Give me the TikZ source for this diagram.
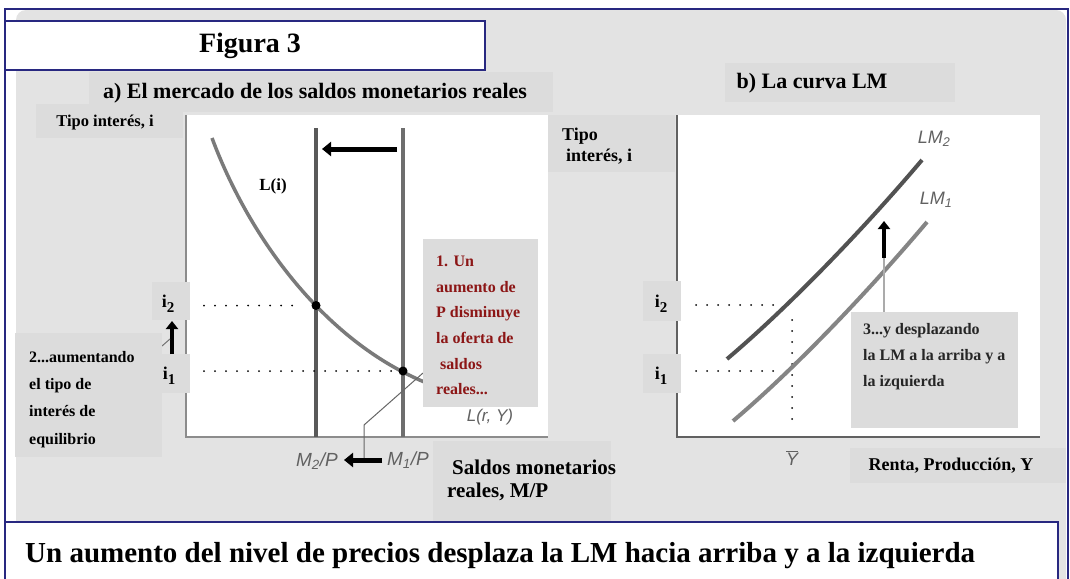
\documentclass[tikz,border=0pt]{standalone}
\usepackage{fontspec}
\setmainfont{Liberation Serif}
\newfontfamily\labsans{Liberation Sans}
\usetikzlibrary{arrows.meta}
\definecolor{navy}{RGB}{40,40,128}
\definecolor{bggray}{RGB}{227,227,227}
\definecolor{boxgray}{RGB}{220,220,220}
\definecolor{darkred}{RGB}{140,22,22}
\definecolor{curvegray}{RGB}{122,122,122}
\tikzset{
  lbl/.style={font=\bfseries\fontsize{18}{20}\selectfont, inner sep=0pt},
  boxtxt/.style={font=\bfseries\fontsize{16}{25.6}\selectfont, align=left, inner sep=0pt, anchor=north west},
  greybox/.style={fill=boxgray, draw=none},
  sanslab/.style={font=\labsans\itshape\fontsize{18}{20}\selectfont, text=black!62, inner sep=0pt},
  bigarrow/.style={line width=5pt, -{Triangle[length=9pt,width=14pt]}},
  dotline/.style={line width=2pt, line cap=round, dash pattern=on 0pt off 11pt},
  eqdot/.style={circle, fill=black, inner sep=0pt, minimum size=9pt},
}
\newcommand{\isub}[1]{i\raisebox{-4.5pt}{\fontsize{15}{15}\selectfont #1}}
\begin{document}
\begin{tikzpicture}[x=1pt,y=-1pt]
\useasboundingbox (0,0) rectangle (1070,578);
\fill[white] (0,0) rectangle (1070,578);
% background
\fill[bggray, rounded corners=10pt] (16,10) rectangle (1066,600);
\draw[navy, line width=1.5pt] (5,600) -- (5,9) -- (1068,9) -- (1068,600);

% title
\draw[navy, fill=white, line width=1.5pt] (5,21) rectangle (485,70);
\node[font=\bfseries\fontsize{28}{30}\selectfont, inner sep=0pt] (fig) at (250,46) {Figura 3};

% subtitles
\fill[boxgray] (89,72) rectangle (553,112);
\node[font=\bfseries\fontsize{22}{24}\selectfont, inner sep=0pt] (suba) at (315,93) {a) El mercado de los saldos monetarios reales};
\fill[boxgray] (725,63) rectangle (955,102);
\node[font=\bfseries\fontsize{22}{24}\selectfont, inner sep=0pt] (subb) at (812,83) {b) La curva LM};

% ---------- left panel ----------
\fill[boxgray] (36,104) rectangle (183,138);
\node[lbl, font=\bfseries\fontsize{16.5}{18}\selectfont] (tipoA) at (105,123) {Tipo interés, i};
\fill[white] (186,115) rectangle (548,437);
\draw[black!45, line width=2.5pt] (186,115) -- (186,437) -- (548,437);

\coordinate (m2top) at (316,128);
\coordinate (m2bot) at (316,437);
\coordinate (m1top) at (403,128);
\coordinate (m1bot) at (403,437);
\draw[black!65, line width=3.5pt] (m2top) -- (m2bot);
\draw[black!57, line width=3.5pt] (m1top) -- (m1bot);

\coordinate (arrS) at (397,149);
\coordinate (arrE) at (322,149);
\draw[bigarrow] (arrS) -- (arrE);

\draw[curvegray, line width=3.5pt] (212,138) .. controls (250,240) and (330,350) .. (440,388);
\node[font=\bfseries\fontsize{17}{19}\selectfont, inner sep=2pt, fill=white] (Li) at (273,186) {L(i)};

\node[eqdot] (e2) at (316,305.5) {};
\node[eqdot] (e1) at (403,371) {};
\coordinate (d2s) at (204,305.5);
\coordinate (d1s) at (204,371);
\draw[dotline] (d2s) -- (300,305.5);
\draw[dotline] (d1s) -- (398,371);

% leader line
\coordinate (ldA) at (423,373);
\coordinate (ldB) at (364,425);
\coordinate (ldC) at (364,459);
\draw[black!60, line width=1pt] (ldA) -- (ldB) -- (ldC);

% box 1
\fill[boxgray] (423,239) rectangle (538,407);
\node[boxtxt, text=darkred] (box1) at (436,256) {1. Un\\aumento de\\P disminuye\\la oferta de\\\hspace*{4pt}saldos\\reales...};
\node[sanslab, font=\labsans\itshape\fontsize{17}{19}\selectfont] (Lry) at (490,417) {L(r, Y)};

% i labels left
\fill[boxgray] (152,282) rectangle (190,320);
\node[lbl] (i2a) at (168,304) {\isub{2}};
\fill[boxgray] (162,354) rectangle (190,393);
\node[lbl] (i1a) at (169,376) {\isub{1}};
\coordinate (upS) at (172,354);
\coordinate (upE) at (172,321);
\draw[line width=4pt, -{Triangle[length=8pt,width=12pt]}] (upS) -- (upE);
\draw[black!55, line width=1pt] (162,346) -- (170,339);

% box 2
\fill[boxgray] (15,333) rectangle (162,457);
\node[boxtxt, font=\bfseries\fontsize{16}{27.3}\selectfont] (box2) at (29,351) {2...aumentando\\el tipo de\\interés de\\equilibrio};

% x labels left
\node[sanslab, font=\labsans\itshape\fontsize{19}{21}\selectfont] (M2P) at (317,461) {M\textsubscript{2}/P};
\node[sanslab, font=\labsans\itshape\fontsize{19}{21}\selectfont] (M1P) at (408,460) {M\textsubscript{1}/P};
\coordinate (bS) at (382,460);
\coordinate (bE) at (344,460);
\draw[line width=5pt, -{Triangle[length=9pt,width=14pt]}] (bS) -- (bE);

\fill[boxgray] (433,441) rectangle (611,522);
\node[font=\bfseries\fontsize{21}{23}\selectfont, inner sep=0pt, anchor=base west] (sal1) at (452,474) {Saldos monetarios};
\node[font=\bfseries\fontsize{21}{23}\selectfont, inner sep=0pt, anchor=base west] (sal2) at (447,497) {reales, M/P};

% ---------- right panel ----------
\fill[boxgray] (548,115) rectangle (675,172);
\node[lbl, anchor=base west] (tipoB1) at (562,140) {Tipo};
\node[lbl, anchor=base west] (tipoB2) at (566,161) {interés, i};
\fill[white] (677,115) rectangle (1040,437);
\draw[black!62, line width=2pt] (677,115) -- (677,437) -- (1040,437);

\draw[dotline] (696,305) -- (775,305);
\draw[dotline] (696,371) -- (775,371);
\draw[dotline] (792,320) -- (792,420);

\draw[black!68, line width=4pt] (727,359) .. controls (792,304) and (867,225) .. (922,160);
\draw[black!48, line width=4pt] (733,421) .. controls (798,366) and (872,287) .. (927,222);
\node[sanslab] (LM2) at (934,139) {LM\textsubscript{2}};
\node[sanslab] (LM1) at (936,200) {LM\textsubscript{1}};

\coordinate (rS) at (884,258);
\coordinate (rE) at (884,221);
\coordinate (rB) at (884,312);
\draw[black!33, line width=1.5pt] (rS) -- (rB);
\draw[line width=4pt, -{Triangle[length=8pt,width=12pt]}] (rS) -- (rE);

\fill[boxgray] (643,281) rectangle (681,321);
\node[lbl] (i2b) at (661,304) {\isub{2}};
\fill[boxgray] (643,354) rectangle (681,393);
\node[lbl] (i1b) at (661,376) {\isub{1}};

\fill[boxgray] (851,312) rectangle (1018,428);
\node[boxtxt, font=\bfseries\fontsize{16}{26}\selectfont, text=black!85] (box3) at (863,323) {3...y desplazando\\la LM a la arriba y a\\la izquierda};

\node[sanslab] (Ybar) at (792,458) {$\overline{\hbox{Y}}$};

\fill[boxgray] (850,448) rectangle (1066,483);
\node[lbl] (renta) at (951,466) {Renta, Producción, Y};

% ---------- bottom ----------
\draw[navy, fill=white, line width=1.5pt] (5,522) rectangle (1058,600);
\node[font=\bfseries\fontsize{29}{31}\selectfont, inner sep=0pt, anchor=base west] (concl) at (25,562) {Un aumento del nivel de precios desplaza la LM hacia arriba y a la izquierda};
\end{tikzpicture}
\end{document}
